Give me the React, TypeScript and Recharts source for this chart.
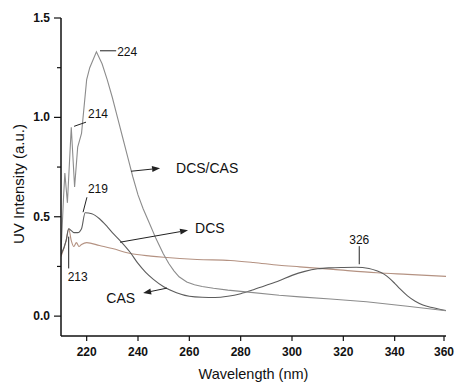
import React from "react";
import { LineChart, Line, XAxis, YAxis, ReferenceLine, Label } from "recharts";

// wavelength (nm) / intensity pairs
const dcsCasNm = [210, 211, 211.5, 212.5, 214, 215.3, 216.5, 218, 220, 221.2, 223.8, 226, 228, 230, 232, 234, 236, 238, 240, 242, 244.7, 247, 249.8, 252, 254, 256, 259, 262, 265, 269.4, 275, 282, 295, 303, 315, 329, 345, 360];
const dcsCasVal = [0.32, 0.6, 0.72, 0.57, 0.95, 0.65, 0.85, 0.92, 1.19, 1.25, 1.33, 1.27, 1.19, 1.1, 1.0, 0.9, 0.8, 0.7, 0.61, 0.54, 0.46, 0.39, 0.315, 0.265, 0.228, 0.198, 0.172, 0.158, 0.149, 0.14, 0.131, 0.122, 0.105, 0.097, 0.086, 0.072, 0.05, 0.027];

const dcsNm = [210, 212, 213, 214, 215, 216.5, 218, 219.4, 222, 225, 228, 230, 233, 237, 240, 243, 246, 250, 255, 260, 265, 270, 275, 280, 285, 290, 295, 300, 305, 310, 315, 320, 325, 330, 333, 336, 338, 340, 342, 345, 348, 351, 355, 360];
const dcsVal = [0.31, 0.38, 0.44, 0.43, 0.42, 0.42, 0.44, 0.52, 0.515, 0.49, 0.45, 0.42, 0.38, 0.32, 0.265, 0.22, 0.185, 0.148, 0.118, 0.1, 0.095, 0.094, 0.1, 0.113, 0.133, 0.155, 0.178, 0.205, 0.225, 0.238, 0.243, 0.245, 0.246, 0.24, 0.228, 0.21, 0.19, 0.165, 0.138, 0.102, 0.075, 0.056, 0.042, 0.028];

const casNm = [210, 212, 213, 214, 215, 216, 217, 218, 220, 225, 230, 237, 245, 250, 263, 276, 285, 295, 303, 316, 333, 345, 360];
const casVal = [0.3, 0.38, 0.44, 0.38, 0.35, 0.37, 0.35, 0.36, 0.37, 0.355, 0.34, 0.315, 0.302, 0.296, 0.285, 0.28, 0.27, 0.256, 0.248, 0.235, 0.218, 0.21, 0.2];

const xTicks = [210, 220, 230, 240, 250, 260, 270, 280, 290, 300, 310, 320, 330, 340, 350, 360];
const yTicks = [0, 0.25, 0.5, 0.75, 1, 1.25, 1.5];

const toPoints = (nm: number[], val: number[]) => nm.map((x, i) => ({ x, y: val[i] }));

const dcsCas = toPoints(dcsCasNm, dcsCasVal);
const dcs = toPoints(dcsNm, dcsVal);
const cas = toPoints(casNm, casVal);

// peak labels and curve names, anchored in data units
const notes = [
  { from: [225.2, 1.335], to: [231.5, 1.335], text: "224", arrow: false, dx: 1, dy: 5, anchor: "start", size: 12 },
  { from: [215.1, 0.955], to: [219.75, 0.976], text: "214", arrow: false, dx: 2, dy: -4, anchor: "start", size: 12 },
  { from: [218.6, 0.523], to: [220.1, 0.598], text: "219", arrow: false, dx: 1, dy: -4, anchor: "start", size: 12 },
  { from: [213, 0.4], to: [213, 0.24], text: "213", arrow: false, dx: -1, dy: 13, anchor: "start", size: 12 },
  { from: [326.2, 0.261], to: [326.2, 0.352], text: "326", arrow: false, dx: 0, dy: -2, anchor: "middle", size: 12 },
  { from: [237.3, 0.729], to: [248.6, 0.744], text: "DCS/CAS", arrow: true, dx: 16, dy: 5, anchor: "start", size: 14 },
  { from: [233, 0.372], to: [259.5, 0.432], text: "DCS", arrow: true, dx: 7, dy: 3, anchor: "start", size: 14 },
  { from: [251.3, 0.141], to: [242, 0.116], text: "CAS", arrow: true, dx: -8, dy: 10, anchor: "end", size: 14 },
];

const font = "'Liberation Sans', Arial, sans-serif";

const XTick = (props: any) => {
  const { x, y, payload } = props;
  const major = payload.value % 20 === 0;
  const top = y - 8;
  return (
    <g>
      <line x1={x} y1={top} x2={x} y2={top + (major ? 5 : 3)} stroke="#111" strokeWidth={1.2} />
      {major && (
        <text x={x} y={top + 20} textAnchor="middle" fontSize={12} fontWeight="bold" fontFamily={font} fill="#111">
          {payload.value}
        </text>
      )}
    </g>
  );
};

const YTick = (props: any) => {
  const { x, y, payload } = props;
  const major = Math.abs((payload.value * 2) % 1) < 1e-6;
  const right = x + 8;
  return (
    <g>
      <line x1={right} y1={y} x2={right - (major ? 7 : 4)} y2={y} stroke="#111" strokeWidth={1.2} />
      {major && (
        <text x={right - 11} y={y + 4} textAnchor="end" fontSize={12} fontWeight="bold" fontFamily={font} fill="#111">
          {payload.value.toFixed(1)}
        </text>
      )}
    </g>
  );
};

const noteShape = (n: any) => (props: any) => {
  const { x1, y1, x2, y2 } = props;
  const a = Math.atan2(y2 - y1, x2 - x1);
  const L = 8;
  const W = 3;
  const bx = x2 - L * Math.cos(a);
  const by = y2 - L * Math.sin(a);
  const px = -Math.sin(a) * W;
  const py = Math.cos(a) * W;
  return (
    <g>
      <line x1={x1} y1={y1} x2={n.arrow ? bx : x2} y2={n.arrow ? by : y2} stroke="#222" strokeWidth={1} />
      {n.arrow && <polygon points={`${x2},${y2} ${bx + px},${by + py} ${bx - px},${by - py}`} fill="#222" />}
      <text x={x2 + n.dx} y={y2 + n.dy} textAnchor={n.anchor} fontSize={n.size} fontFamily={font} fill="#111">
        {n.text}
      </text>
    </g>
  );
};

export default function App() {
  return (
    <div style={{ position: "absolute", left: 0, top: 0, background: "#fff" }}>
      <LineChart width={456} height={383} margin={{ top: 18, right: 10, bottom: 3, left: 0 }}>
        <XAxis
          type="number"
          dataKey="x"
          domain={[210, 360]}
          ticks={xTicks}
          tick={<XTick />}
          tickLine={false}
          axisLine={{ stroke: "#111", strokeWidth: 1.5 }}
          height={44}
          allowDataOverflow
        >
          <Label
            content={(p: any) => (
              <text x={p.viewBox.x + p.viewBox.width / 2} y={p.viewBox.y + 43} textAnchor="middle" fontSize={14.5} fontFamily={font} fill="#111">
                Wavelength (nm)
              </text>
            )}
          />
        </XAxis>
        <YAxis
          type="number"
          domain={[-0.1, 1.5]}
          ticks={yTicks}
          tick={<YTick />}
          tickLine={false}
          axisLine={{ stroke: "#111", strokeWidth: 1.5 }}
          width={61}
          allowDataOverflow
        >
          <Label
            content={(p: any) => (
              <text
                x={24}
                y={p.viewBox.y + p.viewBox.height / 2 + 7}
                transform={`rotate(-90 24 ${p.viewBox.y + p.viewBox.height / 2 + 7})`}
                textAnchor="middle"
                fontSize={15}
                fontFamily={font}
                fill="#111"
              >
                UV Intensity (a.u.)
              </text>
            )}
          />
        </YAxis>
        <Line data={cas} dataKey="y" type="monotone" stroke="#b49282" strokeWidth={1.1} dot={false} isAnimationActive={false} />
        <Line data={dcs} dataKey="y" type="monotone" stroke="#5c5c5c" strokeWidth={1.1} dot={false} isAnimationActive={false} />
        <Line data={dcsCas} dataKey="y" type="linear" stroke="#8c8c8c" strokeWidth={1.1} dot={false} isAnimationActive={false} />
        {notes.map((n) => (
          <ReferenceLine
            key={n.text}
            segment={[
              { x: n.from[0], y: n.from[1] },
              { x: n.to[0], y: n.to[1] },
            ]}
            ifOverflow="visible"
            shape={noteShape(n)}
          />
        ))}
      </LineChart>
    </div>
  );
}
